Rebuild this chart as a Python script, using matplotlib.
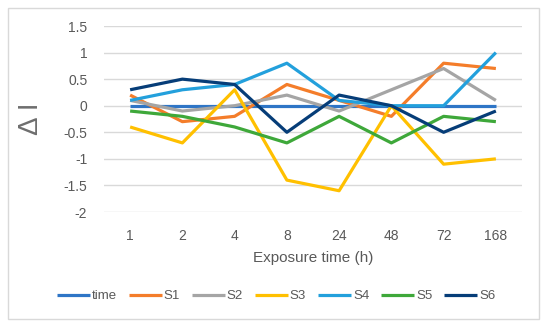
import matplotlib
matplotlib.use("Agg")
import matplotlib.pyplot as plt
from matplotlib.patches import Rectangle

plt.rcParams['font.family'] = ['Liberation Sans', 'DejaVu Sans']

# data
hours = ["1", "2", "4", "8", "24", "48", "72", "168"]
time = [0, 0, 0, 0, 0, 0, 0, 0]
s1 = [0.2, -0.3, -0.2, 0.4, 0.1, -0.2, 0.8, 0.7]
s2 = [0.1, -0.1, 0.0, 0.2, -0.1, 0.3, 0.7, 0.1]
s3 = [-0.4, -0.7, 0.3, -1.4, -1.6, 0.0, -1.1, -1.0]
s4 = [0.1, 0.3, 0.4, 0.8, 0.1, 0.0, 0.0, 1.0]
s5 = [-0.1, -0.2, -0.4, -0.7, -0.2, -0.7, -0.2, -0.3]
s6 = [0.3, 0.5, 0.4, -0.5, 0.2, 0.0, -0.5, -0.1]

series = [("time", time, "#2E75C6"),
          ("S1", s1, "#F47D2A"),
          ("S2", s2, "#A5A5A5"),
          ("S3", s3, "#FFC000"),
          ("S4", s4, "#23A0DC"),
          ("S5", s5, "#3EA83A"),
          ("S6", s6, "#063D78")]

fig = plt.figure(figsize=(5.5, 3.27), dpi=100)
ax = fig.add_axes([104 / 550, 1 - 212 / 327, 418 / 550, 186 / 327])

# outer chart border
fig.patches.append(Rectangle((8 / 550, 1 - 319 / 327), 531 / 550, 311 / 327,
                             transform=fig.transFigure, fill=False,
                             edgecolor="#D9D9D9", linewidth=1.0))

x = list(range(len(hours)))
for name, vals, col in series:
    ax.plot(x, vals, color=col, linewidth=2.3, label=name, solid_capstyle="butt")

ax.set_xlim(-0.5, len(hours) - 0.5)
ax.set_ylim(-2, 1.5)
ax.set_yticks([1.5, 1, 0.5, 0, -0.5, -1, -1.5, -2])
ax.set_yticklabels(["1.5", "1", "0.5", "0", "-0.5", "-1", "-1.5", "-2"])
ax.set_xticks(x)
ax.set_xticklabels(hours)
ax.grid(axis="y", color="#D9D9D9", linewidth=1.0)
ax.set_axisbelow(True)
for sp in ax.spines.values():
    sp.set_visible(False)
ax.tick_params(length=0, colors="#595959", labelsize=10)
ax.tick_params(axis="y", pad=12)
ax.tick_params(axis="x", pad=12)

ax.set_xlabel("Exposure time (h)", color="#595959", fontsize=11, labelpad=6)
ax.set_ylabel("Δ I", color="#6E6E6E", fontsize=20, labelpad=14)

leg = fig.legend(loc="center", bbox_to_anchor=(276 / 550, 1 - 296 / 327), ncol=7,
                 frameon=False, fontsize=9.5, handlelength=2.5,
                 handletextpad=0.15, columnspacing=0.9)
for t in leg.get_texts():
    t.set_color("#595959")

fig.savefig("out.png", dpi=100)
